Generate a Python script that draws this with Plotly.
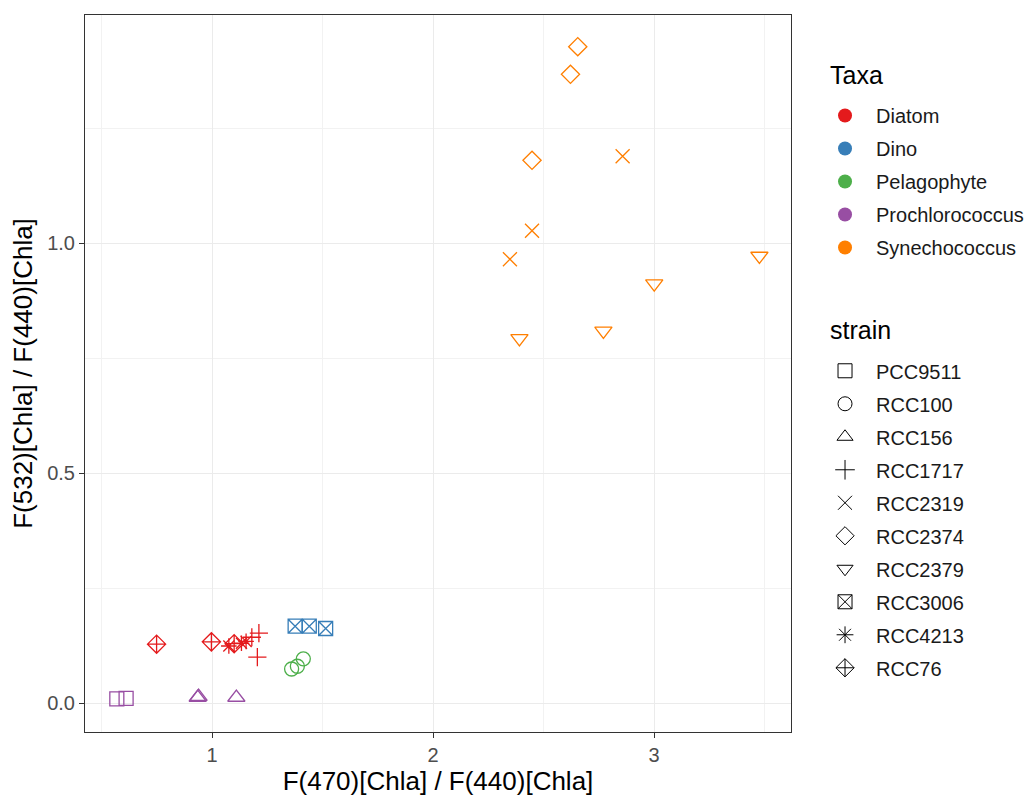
import plotly.graph_objects as go

# ---- data ----
x_vals = [2.655, 2.622, 2.448, 2.858, 2.448, 2.348, 3.477, 3.001, 2.771, 2.391,
          0.749, 0.997, 1.100, 1.076, 1.133, 1.154, 1.212, 1.180, 1.205,
          1.376, 1.440, 1.514,
          1.360, 1.386, 1.413,
          0.569, 0.611, 0.935, 0.939, 1.110]
y_vals = [1.427, 1.367, 1.180, 1.189, 1.027, 0.965, 0.972, 0.912, 0.809, 0.793,
          0.128, 0.133, 0.129, 0.124, 0.130, 0.134, 0.152, 0.143, 0.100,
          0.167, 0.167, 0.162,
          0.074, 0.080, 0.096,
          0.009, 0.010, 0.012, 0.014, 0.012]
taxa = (["Synechococcus"] * 10 + ["Diatom"] * 9 + ["Dino"] * 3 +
        ["Pelagophyte"] * 3 + ["Prochlorococcus"] * 5)
strain = (["RCC2374"] * 3 + ["RCC2319"] * 3 + ["RCC2379"] * 4 +
          ["RCC76"] * 3 + ["RCC4213"] * 3 + ["RCC1717"] * 3 +
          ["RCC3006"] * 3 + ["RCC100"] * 3 +
          ["PCC9511"] * 2 + ["RCC156"] * 3)

taxa_levels = ["Diatom", "Dino", "Pelagophyte", "Prochlorococcus", "Synechococcus"]
strain_levels = ["PCC9511", "RCC100", "RCC156", "RCC1717", "RCC2319", "RCC2374",
                 "RCC2379", "RCC3006", "RCC4213", "RCC76"]
x_ticks = [1, 2, 3]
y_ticks = [0.0, 0.5, 1.0]

# ---- styles ----
taxa_colors = {"Diatom": "#E41A1C", "Dino": "#377EB8", "Pelagophyte": "#4DAF4A",
               "Prochlorococcus": "#984EA3", "Synechococcus": "#FF7F00"}
strain_symbols = {"PCC9511": "square-open", "RCC100": "circle-open",
                  "RCC156": "triangle-up-open", "RCC1717": "cross-thin-open",
                  "RCC2319": "x-thin-open", "RCC2374": "diamond-open",
                  "RCC2379": "triangle-down-open", "RCC3006": "square-x-open",
                  "RCC4213": "asterisk-open", "RCC76": "diamond-cross-open"}
strain_sizes = {"PCC9511": 14, "RCC100": 14, "RCC156": 15, "RCC1717": 13,
                "RCC2319": 14, "RCC2374": 14, "RCC2379": 15, "RCC3006": 14,
                "RCC4213": 13, "RCC76": 14}

FONT = "Liberation Sans, Arial, sans-serif"
fig = go.Figure()

groups = {}
for xv, yv, t, s in zip(x_vals, y_vals, taxa, strain):
    groups.setdefault((t, s), ([], []))
    groups[(t, s)][0].append(xv)
    groups[(t, s)][1].append(yv)

for (t, s), (xs, ys) in groups.items():
    fig.add_trace(go.Scatter(
        x=xs, y=ys, mode="markers", showlegend=False,
        marker=dict(symbol=strain_symbols[s], size=strain_sizes[s],
                    color=taxa_colors[t], line=dict(width=1.3, color=taxa_colors[t])),
        hoverinfo="skip"))

for i, t in enumerate(taxa_levels):
    fig.add_trace(go.Scatter(
        x=[None], y=[None], mode="markers", name=t, legend="legend",
        legendgroup="t" + str(i),
        marker=dict(symbol="circle", size=14, color=taxa_colors[t])))

for i, s in enumerate(strain_levels):
    fig.add_trace(go.Scatter(
        x=[None], y=[None], mode="markers", name=s, legend="legend2",
        legendgroup="s" + str(i),
        marker=dict(symbol=strain_symbols[s], size=14, color="black",
                    line=dict(width=1, color="black"))))

axis_common = dict(
    showgrid=True, gridcolor="#EBEBEB", gridwidth=1.3,
    zeroline=False, showline=True, linecolor="#333333", linewidth=1, mirror=True,
    ticks="outside", ticklen=5, tickcolor="#333333", tickwidth=1.2,
    tickfont=dict(family=FONT, size=20, color="#4D4D4D"),
    automargin=False,
)

fig.update_layout(
    width=1033, height=796,
    paper_bgcolor="white", plot_bgcolor="white",
    margin=dict(l=77, r=250, t=7, b=72),
    font=dict(family=FONT, color="black"),
    xaxis=dict(axis_common, range=[0.425, 3.62], tickvals=x_ticks,
               ticktext=[str(v) for v in x_ticks],
               minor=dict(dtick=0.5, tick0=0.5, showgrid=True, gridcolor="#F2F2F2",
                          gridwidth=0.7, ticks=""),
               title=dict(text="F(470)[Chla] / F(440)[Chla]", standoff=4,
                          font=dict(family=FONT, size=26, color="black"))),
    yaxis=dict(axis_common, range=[-0.063, 1.496], tickvals=y_ticks,
               ticktext=["%.1f" % v for v in y_ticks],
               minor=dict(dtick=0.25, tick0=0.25, showgrid=True, gridcolor="#F2F2F2",
                          gridwidth=0.7, ticks=""),
               title=dict(text="F(532)[Chla] / F(440)[Chla]", standoff=10,
                          font=dict(family=FONT, size=26, color="black"))),
    legend=dict(x=1.0326, y=0.887, xanchor="left", yanchor="top",
                font=dict(family=FONT, size=20, color="#1A1A1A"), tracegroupgap=4,
                itemwidth=52, bgcolor="rgba(0,0,0,0)"),
    legend2=dict(x=1.0326, y=0.531, xanchor="left", yanchor="top",
                 font=dict(family=FONT, size=20, color="#1A1A1A"), tracegroupgap=4,
                 itemwidth=52, bgcolor="rgba(0,0,0,0)"),
    annotations=[
        dict(text="Taxa", xref="paper", yref="paper", x=1.052, y=0.916,
             xanchor="left", yanchor="middle", showarrow=False,
             font=dict(family=FONT, size=25, color="black")),
        dict(text="strain", xref="paper", yref="paper", x=1.052, y=0.561,
             xanchor="left", yanchor="middle", showarrow=False,
             font=dict(family=FONT, size=25, color="black")),
    ],
)

fig.write_html("out.html")
